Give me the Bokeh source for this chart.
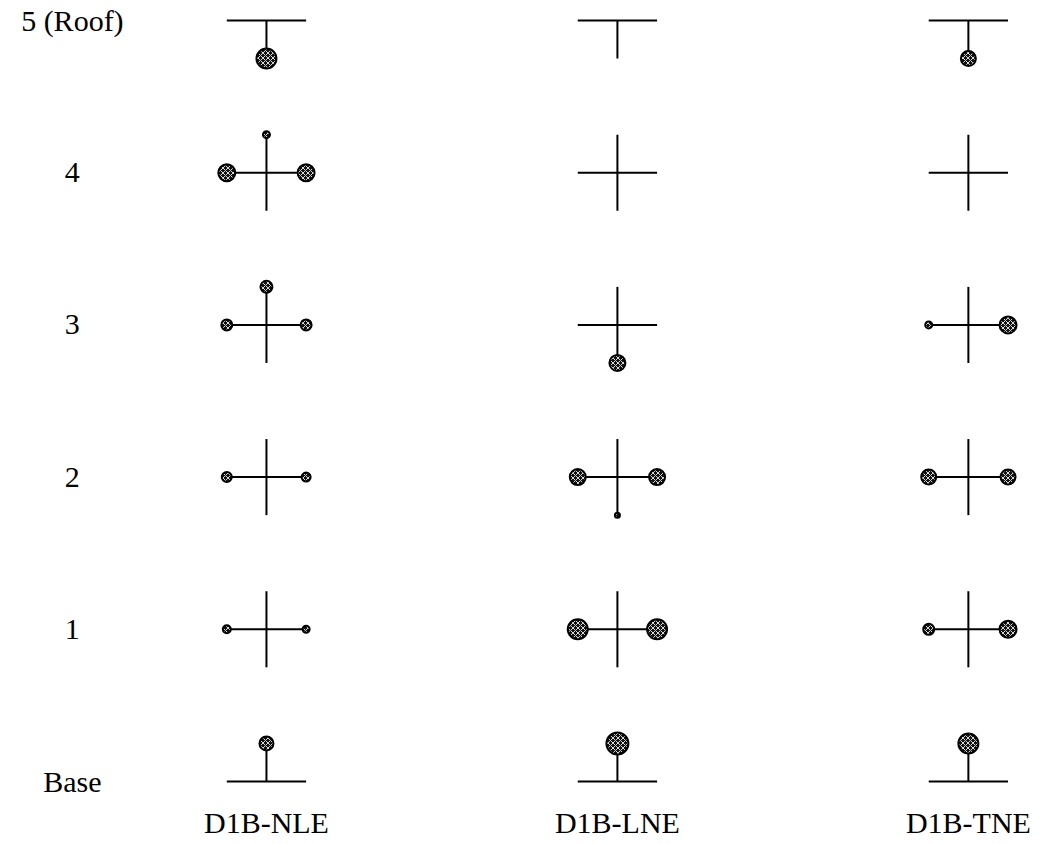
from bokeh.plotting import figure
from bokeh.models import Range1d, ColumnDataSource
from bokeh.embed import file_html
from bokeh.resources import INLINE
from bokeh.core.properties import value

# ---------------- data ----------------
models = ["D1B-NLE", "D1B-LNE", "D1B-TNE"]
floors = ["5 (Roof)", "4", "3", "2", "1", "Base"]   # top -> bottom

# plastic hinge sizes (diameter, px) at the member ends of each joint, floors top -> bottom
hinge_left = {
    "D1B-NLE": [0, 17, 11, 10, 8, 0],
    "D1B-LNE": [0, 0, 0, 16, 20, 0],
    "D1B-TNE": [0, 0, 7, 15, 11, 0],
}
hinge_right = {
    "D1B-NLE": [0, 17, 11, 9, 7, 0],
    "D1B-LNE": [0, 0, 0, 16, 20, 0],
    "D1B-TNE": [0, 0, 17, 15, 17, 0],
}
hinge_up = {
    "D1B-NLE": [0, 7, 12, 0, 0, 14],
    "D1B-LNE": [0, 0, 0, 0, 0, 22],
    "D1B-TNE": [0, 0, 0, 0, 0, 20],
}
hinge_down = {
    "D1B-NLE": [20, 0, 0, 0, 0, 0],
    "D1B-LNE": [0, 0, 16, 5, 0, 0],
    "D1B-TNE": [15, 0, 0, 0, 0, 0],
}

# ---------------- geometry (data units) ----------------
HX = 0.113   # half beam length
VY = 0.25    # column length above / below joint
nF = len(floors)

def level(j):
    return (nF - 1) - j

sx0, sy0, sx1, sy1 = [], [], [], []
hx, hy, hs = [], [], []
for i, m in enumerate(models):
    for j, f in enumerate(floors):
        y = level(j)
        sx0.append(i - HX); sy0.append(y); sx1.append(i + HX); sy1.append(y)
        if j > 0:  # column above
            sx0.append(i); sy0.append(y); sx1.append(i); sy1.append(y + VY)
        if j < nF - 1:  # column below
            sx0.append(i); sy0.append(y); sx1.append(i); sy1.append(y - VY)
        for d, (dx, dy) in zip(
            [hinge_left[m][j], hinge_right[m][j], hinge_up[m][j], hinge_down[m][j]],
            [(-HX, 0), (HX, 0), (0, VY), (0, -VY)],
        ):
            if d > 0:
                hx.append(i + dx); hy.append(y + dy); hs.append(d)

p = figure(
    width=1050, height=842,
    x_range=Range1d(-0.735, 2.234), y_range=Range1d(-0.401, 5.079),
    output_backend="svg", toolbar_location=None,
    x_axis_type=None, y_axis_type=None,
    min_border=0, min_border_left=8, min_border_top=8,
)
p.outline_line_color = None
p.xgrid.visible = False
p.ygrid.visible = False
p.background_fill_color = "white"

p.segment(x0=sx0, y0=sy0, x1=sx1, y1=sy1, line_color="black", line_width=2)

src = ColumnDataSource(dict(x=hx, y=hy, s=hs))
p.scatter(
    "x", "y", size="s", source=src, marker="circle",
    fill_color="#111111", hatch_pattern="diagonal_cross", hatch_color="#d8d8d8",
    hatch_scale=5, hatch_weight=1, line_color="black", line_width=2,
)

# row labels
p.text(
    x=[-0.553] * nF, y=[level(j) for j in range(nF)], text=floors,
    text_font=value("Liberation Serif"), text_font_size="30px",
    text_align="center", text_baseline="middle", text_color="black",
)
# column labels
p.text(
    x=list(range(len(models))), y=[-0.27] * len(models), text=models,
    text_font=value("Liberation Serif"), text_font_size="30px",
    text_align="center", text_baseline="middle", text_color="black",
)

open("out.html", "w").write(file_html(p, INLINE))
